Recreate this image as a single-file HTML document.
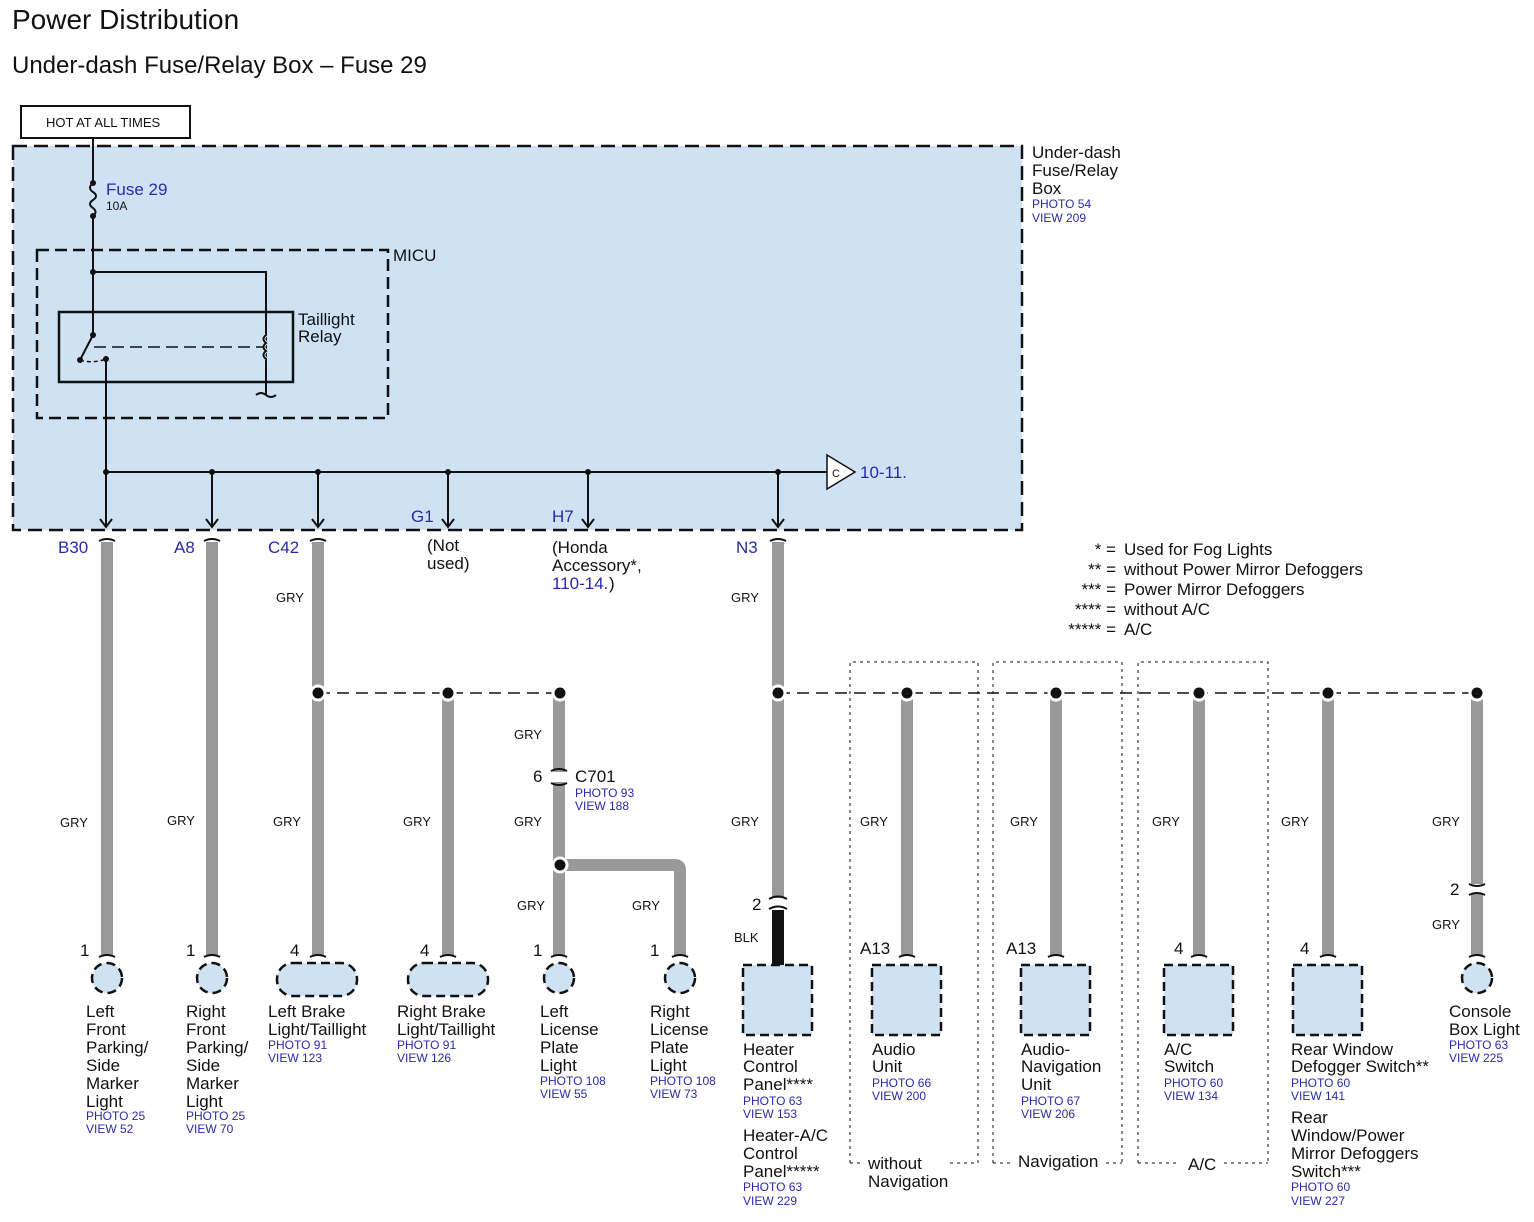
<!DOCTYPE html>
<html><head><meta charset="utf-8"><style>
html,body{margin:0;padding:0;background:#fff;}
svg{display:block;}
text{font-family:"Liberation Sans",Arial,sans-serif;fill:#111;}
text.b,.b text{fill:#2a2aa8;}
.s{font-size:12px;}
.l{font-size:17px;}
.w{stroke:#999;stroke-width:12;fill:none;}
.k{stroke:#111;stroke-width:2;fill:none;}
.cmp{fill:#cfe2f3;stroke:#111;stroke-width:2.5;stroke-dasharray:9,5;}
.dot{stroke:#111;stroke-width:1;stroke-dasharray:3,4;fill:none;}
</style></head><body>
<svg width="1534" height="1222" viewBox="0 0 1534 1222" xmlns="http://www.w3.org/2000/svg">
<text x="12" y="29" style="font-size:28px">Power Distribution</text>
<text x="12" y="73" style="font-size:24px">Under-dash Fuse/Relay Box – Fuse 29</text>

<rect x="21" y="106" width="169" height="32" fill="#fff" stroke="#111" stroke-width="2"/>
<text x="46" y="127" style="font-size:13px">HOT AT ALL TIMES</text>

<rect x="13" y="146" width="1009" height="384" fill="#cfe2f3" stroke="#111" stroke-width="2.5" stroke-dasharray="14,7"/>
<text x="1032" y="158" class="l">Under-dash</text>
<text x="1032" y="176" class="l">Fuse/Relay</text>
<text x="1032" y="194" class="l">Box</text>
<text x="1032" y="208" class="s b">PHOTO 54</text>
<text x="1032" y="222" class="s b">VIEW 209</text>

<!-- fuse -->
<path class="k" d="M93 138 V183 M93 216 V335"/>
<path class="k" d="M93 183 q-6 5 0 9 q6 4 0 8 q-6 4 0 8 q5 4 0 8" stroke-width="1.5"/>
<circle cx="93" cy="183" r="3" fill="#111"/><circle cx="93" cy="216" r="3" fill="#111"/>
<text x="106" y="195" style="font-size:17px" class="b">Fuse 29</text>
<text x="106" y="210" class="s">10A</text>

<rect x="37" y="250" width="351" height="168" fill="none" stroke="#111" stroke-width="2.5" stroke-dasharray="12,6"/>
<text x="393" y="261" class="l">MICU</text>
<path class="k" d="M93 272 H266 V395"/>
<circle cx="93" cy="272" r="3" fill="#111"/>
<rect x="59" y="312" width="234" height="70" fill="none" stroke="#111" stroke-width="2.5"/>
<text x="298" y="325" class="l">Taillight</text>
<text x="298" y="342" class="l">Relay</text>
<path d="M266 335 q-5 4 0 8 q-5 4 0 8 q-5 4 0 8" stroke="#cfe2f3" stroke-width="4" fill="none"/>
<path d="M266 335 q-5 4 0 8 q-5 4 0 8 q-5 4 0 8" class="k" stroke-width="1.5"/>
<path d="M256 395 q5 -4 10 0 q5 4 10 0" class="k" stroke-width="1.5"/>
<path class="k" d="M93 335 L80 360"/>
<circle cx="93" cy="335" r="3" fill="#111"/><circle cx="80" cy="360" r="3" fill="#111"/>
<path d="M94 347 H264" stroke="#111" stroke-width="1.5" stroke-dasharray="12,6"/>
<path d="M80 360 q12 4 26 -1" stroke="#111" stroke-width="1.5" stroke-dasharray="4,3" fill="none"/>
<circle cx="106" cy="359" r="3" fill="#111"/>
<path class="k" d="M106 359 V527"/>

<!-- bus -->
<path class="k" d="M106 472 H828"/>
<g fill="#111">
<circle cx="106" cy="472" r="3"/><circle cx="212" cy="472" r="3"/><circle cx="318" cy="472" r="3"/><circle cx="448" cy="472" r="3"/><circle cx="588" cy="472" r="3"/><circle cx="778" cy="472" r="3"/>
</g>
<path class="k" d="M212 472 V527 M318 472 V527 M448 472 V527 M588 472 V527 M778 472 V527"/>
<path class="k" d="M100 519 l6 8 l6 -8 M206 519 l6 8 l6 -8 M312 519 l6 8 l6 -8 M442 519 l6 8 l6 -8 M582 519 l6 8 l6 -8 M772 519 l6 8 l6 -8" stroke-width="1.5"/>
<path d="M827 455 L855 472 L827 489 Z" fill="#fff" stroke="#111" stroke-width="1.5"/>
<text x="832" y="477" style="font-size:11px">C</text>
<text x="860" y="478" class="l b">10-11.</text>

<g class="l b">
<text x="58" y="553">B30</text><text x="174" y="553">A8</text><text x="268" y="553">C42</text>
<text x="411" y="522">G1</text><text x="552" y="522">H7</text><text x="736" y="553">N3</text>
</g>
<text x="427" y="551" class="l">(Not</text><text x="427" y="569" class="l">used)</text>
<text x="552" y="553" class="l">(Honda</text><text x="552" y="571" class="l">Accessory*,</text>
<text x="552" y="589" class="l b">110-14.</text><text x="609" y="589" class="l">)</text>

<!-- legend -->
<g class="l">
<text x="1116" y="555" text-anchor="end">* =</text><text x="1124" y="555">Used for Fog Lights</text>
<text x="1116" y="575" text-anchor="end">** =</text><text x="1124" y="575">without Power Mirror Defoggers</text>
<text x="1116" y="595" text-anchor="end">*** =</text><text x="1124" y="595">Power Mirror Defoggers</text>
<text x="1116" y="615" text-anchor="end">**** =</text><text x="1124" y="615">without A/C</text>
<text x="1116" y="635" text-anchor="end">***** =</text><text x="1124" y="635">A/C</text>
</g>

<!-- dotted option boxes -->
<path class="dot" d="M850 1163 V662 H978 V1163 M993 1163 V662 H1122 V1163 M1138 1163 V662 H1268 V1163"/>
<path class="dot" d="M850 1163 H860 M950 1163 H978 M993 1163 H1012 M1106 1163 H1122 M1138 1163 H1178 M1224 1163 H1268"/>
<text x="868" y="1169" class="l">without</text><text x="868" y="1187" class="l">Navigation</text>
<text x="1018" y="1167" class="l">Navigation</text>
<text x="1188" y="1170" class="l">A/C</text>

<!-- dashed splice lines -->
<path d="M318 693 H560 M778 693 H1477" stroke="#111" stroke-width="1.5" stroke-dasharray="12,7"/>

<!-- wires -->
<path class="w" d="M107 542 V955 M212 542 V955 M318 542 V955 M448 693 V955 M559 693 V955 M559 865 H675 Q680 865 680 870 V955 M778 542 V898 M907 693 V955 M1056 693 V955 M1199 693 V955 M1328 693 V955 M1477 693 V955"/>
<path d="M778 910 V965" stroke="#111" stroke-width="12"/>
<!-- connector break gaps -->
<rect x="550" y="772" width="18" height="10" fill="#fff"/>
<path class="k" d="M551 771 q8 -4 16 0 M551 783 q8 4 16 0" stroke-width="2.5"/>
<text x="533" y="782" class="l">6</text>
<text x="575" y="782" class="l">C701</text>
<text x="575" y="797" class="s b">PHOTO 93</text><text x="575" y="810" class="s b">VIEW 188</text>
<rect x="768" y="899" width="20" height="10" fill="#fff"/>
<path class="k" d="M769 899 q9 -5 18 0 M769 909 q9 -5 18 0" stroke-width="2.5"/>
<text x="752" y="910" class="l">2</text>
<rect x="1468" y="884" width="18" height="10" fill="#fff"/>
<path class="k" d="M1469 884 q8 4 16 0 M1469 895 q8 -4 16 0" stroke-width="2.5"/>
<text x="1450" y="895" class="l">2</text>

<!-- top caps -->
<path class="k" stroke-width="2.5" d="M99 541 q8 -4 16 0 M204 541 q8 -4 16 0 M310 541 q8 -4 16 0 M770 541 q8 -4 16 0"/>
<!-- splice dots -->
<g fill="#111" stroke="#fff" stroke-width="3">
<circle cx="318" cy="693" r="7"/><circle cx="448" cy="693" r="7"/><circle cx="560" cy="693" r="7"/>
<circle cx="560" cy="865" r="7"/><circle cx="778" cy="693" r="7"/><circle cx="907" cy="693" r="7"/>
<circle cx="1056" cy="693" r="7"/><circle cx="1199" cy="693" r="7"/><circle cx="1328" cy="693" r="7"/><circle cx="1477" cy="693" r="7"/>
</g>

<!-- GRY labels -->
<g style="font-size:13px">
<text x="60" y="827">GRY</text><text x="167" y="825">GRY</text><text x="276" y="602">GRY</text><text x="273" y="826">GRY</text>
<text x="403" y="826">GRY</text><text x="514" y="739">GRY</text><text x="514" y="826">GRY</text><text x="517" y="910">GRY</text>
<text x="632" y="910">GRY</text><text x="731" y="602">GRY</text><text x="731" y="826">GRY</text><text x="734" y="942">BLK</text>
<text x="860" y="826">GRY</text><text x="1010" y="826">GRY</text><text x="1152" y="826">GRY</text><text x="1281" y="826">GRY</text>
<text x="1432" y="826">GRY</text><text x="1432" y="929">GRY</text>
</g>

<!-- bottom caps -->
<path class="k" stroke-width="2.5" d="M99 957 q8 -4 16 0 M204 957 q8 -4 16 0 M310 957 q8 -4 16 0 M440 957 q8 -4 16 0 M551 957 q8 -4 16 0 M672 957 q8 -4 16 0 M899 957 q8 -4 16 0 M1048 957 q8 -4 16 0 M1191 957 q8 -4 16 0 M1320 957 q8 -4 16 0 M1469 957 q8 -4 16 0"/>

<!-- components -->
<circle class="cmp" cx="107" cy="978" r="15"/>
<circle class="cmp" cx="212" cy="978" r="15"/>
<rect class="cmp" x="277" y="963" width="80" height="33" rx="16"/>
<rect class="cmp" x="408" y="963" width="80" height="33" rx="16"/>
<circle class="cmp" cx="559" cy="978" r="15"/>
<circle class="cmp" cx="680" cy="978" r="15"/>
<rect class="cmp" x="743" y="965" width="69" height="70"/>
<rect class="cmp" x="872" y="965" width="69" height="70"/>
<rect class="cmp" x="1021" y="965" width="69" height="70"/>
<rect class="cmp" x="1164" y="965" width="69" height="70"/>
<rect class="cmp" x="1293" y="965" width="69" height="70"/>
<circle class="cmp" cx="1477" cy="978" r="15"/>

<g class="l">
<text x="80" y="956">1</text><text x="186" y="956">1</text><text x="290" y="956">4</text><text x="420" y="956">4</text>
<text x="533" y="956">1</text><text x="650" y="956">1</text><text x="860" y="954">A13</text><text x="1006" y="954">A13</text>
<text x="1174" y="954">4</text><text x="1300" y="954">4</text>
</g>

<g class="l">
<text x="86" y="1017">Left</text><text x="86" y="1035">Front</text><text x="86" y="1053">Parking/</text><text x="86" y="1071">Side</text><text x="86" y="1089">Marker</text><text x="86" y="1107">Light</text>
<text x="186" y="1017">Right</text><text x="186" y="1035">Front</text><text x="186" y="1053">Parking/</text><text x="186" y="1071">Side</text><text x="186" y="1089">Marker</text><text x="186" y="1107">Light</text>
<text x="268" y="1017">Left Brake</text><text x="268" y="1035">Light/Taillight</text>
<text x="397" y="1017">Right Brake</text><text x="397" y="1035">Light/Taillight</text>
<text x="540" y="1017">Left</text><text x="540" y="1035">License</text><text x="540" y="1053">Plate</text><text x="540" y="1071">Light</text>
<text x="650" y="1017">Right</text><text x="650" y="1035">License</text><text x="650" y="1053">Plate</text><text x="650" y="1071">Light</text>
<text x="743" y="1055">Heater</text><text x="743" y="1072">Control</text><text x="743" y="1090">Panel****</text>
<text x="743" y="1141">Heater-A/C</text><text x="743" y="1159">Control</text><text x="743" y="1177">Panel*****</text>
<text x="872" y="1055">Audio</text><text x="872" y="1072">Unit</text>
<text x="1021" y="1055">Audio-</text><text x="1021" y="1072">Navigation</text><text x="1021" y="1090">Unit</text>
<text x="1164" y="1055">A/C</text><text x="1164" y="1072">Switch</text>
<text x="1291" y="1055">Rear Window</text><text x="1291" y="1072">Defogger Switch**</text>
<text x="1291" y="1123">Rear</text><text x="1291" y="1141">Window/Power</text><text x="1291" y="1159">Mirror Defoggers</text><text x="1291" y="1177">Switch***</text>
<text x="1449" y="1017">Console</text><text x="1449" y="1035">Box Light</text>
</g>
<g class="s b">
<text x="86" y="1120">PHOTO 25</text><text x="86" y="1133">VIEW 52</text>
<text x="186" y="1120">PHOTO 25</text><text x="186" y="1133">VIEW 70</text>
<text x="268" y="1049">PHOTO 91</text><text x="268" y="1062">VIEW 123</text>
<text x="397" y="1049">PHOTO 91</text><text x="397" y="1062">VIEW 126</text>
<text x="540" y="1085">PHOTO 108</text><text x="540" y="1098">VIEW 55</text>
<text x="650" y="1085">PHOTO 108</text><text x="650" y="1098">VIEW 73</text>
<text x="743" y="1105">PHOTO 63</text><text x="743" y="1118">VIEW 153</text>
<text x="743" y="1191">PHOTO 63</text><text x="743" y="1205">VIEW 229</text>
<text x="872" y="1087">PHOTO 66</text><text x="872" y="1100">VIEW 200</text>
<text x="1021" y="1105">PHOTO 67</text><text x="1021" y="1118">VIEW 206</text>
<text x="1164" y="1087">PHOTO 60</text><text x="1164" y="1100">VIEW 134</text>
<text x="1291" y="1087">PHOTO 60</text><text x="1291" y="1100">VIEW 141</text>
<text x="1291" y="1191">PHOTO 60</text><text x="1291" y="1205">VIEW 227</text>
<text x="1449" y="1049">PHOTO 63</text><text x="1449" y="1062">VIEW 225</text>
</g>
</svg>
</body></html>
